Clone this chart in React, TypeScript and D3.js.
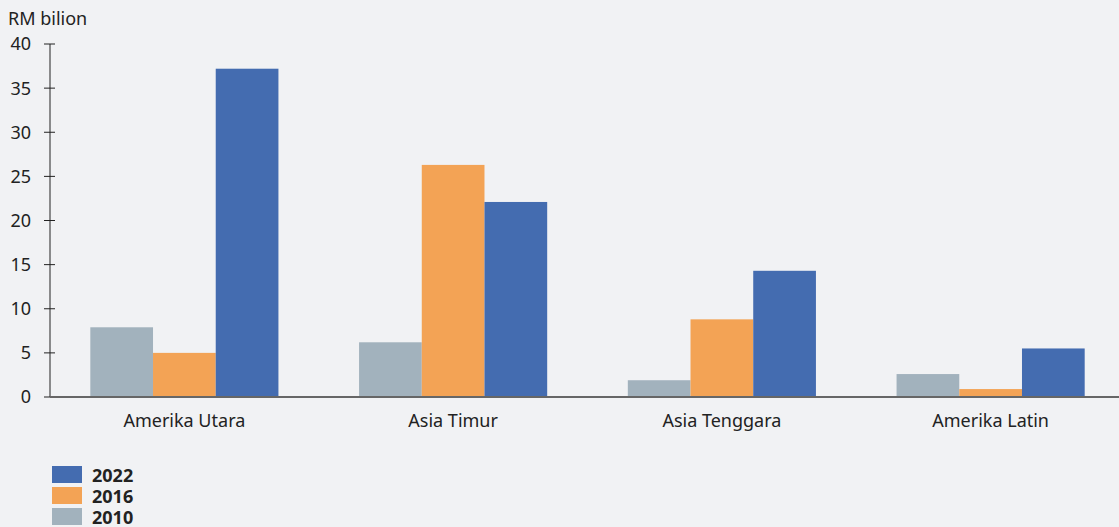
import React from "react";
import * as d3 from "d3";

const categories = ["Amerika Utara", "Asia Timur", "Asia Tenggara", "Amerika Latin"];
const seriesNames = ["2010", "2016", "2022"];
const values2010 = [7.9, 6.2, 1.9, 2.6];
const values2016 = [5.0, 26.3, 8.8, 0.9];
const values2022 = [37.2, 22.1, 14.3, 5.5];
const yTicks = [0, 5, 10, 15, 20, 25, 30, 35, 40];
const legendOrder = ["2022", "2016", "2010"];

const colors: Record<string, string> = { "2010": "#a2b2bd", "2016": "#f3a355", "2022": "#446cb0" };

export default function App() {
  const W = 1119, H = 527;
  const font = "'Noto Sans', 'Open Sans', sans-serif";
  const series = [values2010, values2016, values2022];
  const x0 = d3.scaleBand<string>().domain(categories).range([50, 1125]).paddingInner(0.3).paddingOuter(0.15);
  const x1 = d3.scaleBand<string>().domain(seriesNames).range([0, x0.bandwidth()]);
  const y = d3.scaleLinear().domain([0, 40]).range([397, 44]);

  return (
    <svg width={W} height={H} style={{ position: "absolute", left: 0, top: 0, fontFamily: font }}>
      <rect x={0} y={0} width={W} height={H} fill="#f1f2f4" />
      <text x={8} y={25} fontSize={18} fill="#222">RM bilion</text>
      {categories.map((c, i) =>
        seriesNames.map((s, j) => (
          <rect key={c + s} x={x0(c)! + x1(s)!} y={y(series[j][i])} width={x1.bandwidth()} height={y(0) - y(series[j][i])} fill={colors[s]} />
        ))
      )}
      <line x1={50} x2={50} y1={y(40)} y2={y(0)} stroke="#222" strokeWidth={1} />
      {yTicks.map((t) => (
        <g key={t}>
          <line x1={44} x2={55} y1={y(t)} y2={y(t)} stroke="#222" strokeWidth={1} />
          <text x={31} y={y(t)} dy="0.36em" textAnchor="end" fontSize={18} fill="#222">{t}</text>
        </g>
      ))}
      <line x1={50} x2={W} y1={y(0)} y2={y(0)} stroke="#666" strokeWidth={2} />
      {categories.map((c) => (
        <text key={c} x={x0(c)! + x0.bandwidth() / 2} y={427} textAnchor="middle" fontSize={18} fill="#222">{c}</text>
      ))}
      {legendOrder.map((s, i) => (
        <g key={s}>
          <rect x={52} y={466 + i * 21} width={30} height={17} fill={colors[s]} />
          <text x={92} y={482 + i * 21} fontSize={18} fontWeight="bold" fill="#222">{s}</text>
        </g>
      ))}
    </svg>
  );
}
